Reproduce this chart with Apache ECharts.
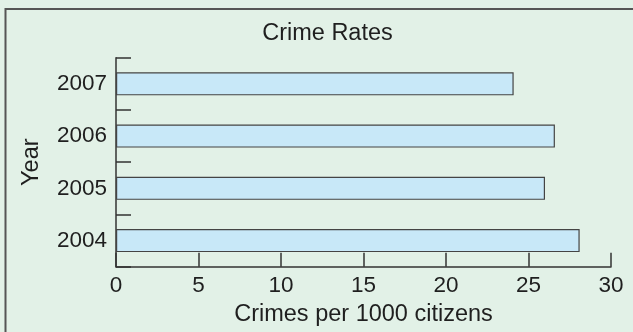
<!DOCTYPE html>
<html>
<head>
<meta charset="utf-8">
<script src="https://cdn.jsdelivr.net/npm/echarts@6/dist/echarts.min.js"></script>
<style>
html,body{margin:0;padding:0;background:#e2f1e7;}
#c{width:633px;height:332px;}
</style>
</head>
<body>
<div id="c"></div>
<script>
var categories = ['2004', '2005', '2006', '2007'];
var crimeRates = [28.1, 26.0, 26.6, 24.1];
var xTicks = [0, 5, 10, 15, 20, 25, 30];
var titleText = 'Crime Rates';
var xName = 'Crimes per 1000 citizens';
var yName = 'Year';

var FONT = 'Liberation Sans, Arial, sans-serif';
var TXT = '#1f1f1f';
var chart = echarts.init(document.getElementById('c'), null, {renderer: 'canvas'});
chart.setOption({
  backgroundColor: '#e2f1e7',
  animation: false,
  graphic: [
    {type: 'rect', z: -1, shape: {x: 5.5, y: 9, width: 700, height: 400},
     style: {fill: 'none', stroke: '#555', lineWidth: 2}},
    {type: 'text', x: 327.5, y: 34, style: {text: titleText, fill: TXT,
     font: '23.5px ' + FONT, textAlign: 'center', textVerticalAlign: 'middle'}}
  ],
  grid: {left: 116, top: 57.7, right: 22, bottom: 65.3},
  xAxis: {
    type: 'value', min: xTicks[0], max: xTicks[xTicks.length - 1], interval: 5,
    splitLine: {show: false},
    axisLine: {show: true, lineStyle: {color: '#333', width: 1.5}},
    axisTick: {show: true, inside: true, length: 14, lineStyle: {color: '#333', width: 1.5}},
    axisLabel: {color: TXT, fontSize: 22.5, fontFamily: FONT, margin: 8},
    name: xName, nameLocation: 'middle', nameGap: 36,
    nameTextStyle: {color: TXT, fontSize: 23.5, fontFamily: FONT}
  },
  yAxis: {
    type: 'category', data: categories,
    axisLine: {show: true, lineStyle: {color: '#333', width: 1.5}},
    axisTick: {show: true, inside: true, length: 15, lineStyle: {color: '#333', width: 1.5}},
    axisLabel: {color: TXT, fontSize: 22.5, fontFamily: FONT, margin: 9},
    name: yName, nameLocation: 'middle', nameGap: 72, nameRotate: 90,
    nameTextStyle: {color: TXT, fontSize: 23.5, fontFamily: FONT}
  },
  series: [{
    type: 'bar', data: crimeRates, barWidth: 23,
    itemStyle: {color: '#c8e8f8', borderColor: '#444', borderWidth: 1.2}
  }]
});
</script>
</body>
</html>
